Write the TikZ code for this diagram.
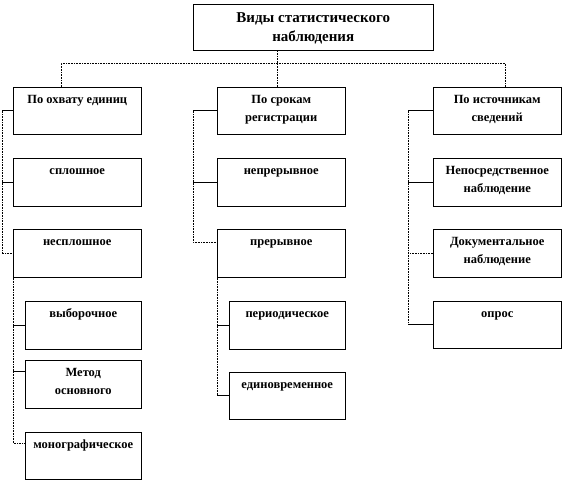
\documentclass[tikz,border=0pt]{standalone}
\usepackage{fontspec}
\setmainfont{Liberation Serif}
\newcommand{\cell}[3]{\parbox[c][#2][t]{#1}{\centering\rule{0pt}{16pt}#3}}
\newcommand{\headcell}[3]{\parbox[c][#2][t]{#1}{\centering\rule{0pt}{18pt}#3}}
\begin{document}
\begin{tikzpicture}[x=1pt,y=-1pt,
  box/.style={draw,line width=0.5pt,inner sep=0pt,anchor=north west,
    font=\bfseries\fontsize{12.5}{18}\selectfont},
  head/.style={box,font=\bfseries\fontsize{15}{19}\selectfont},
  bus/.style={densely dotted,line width=0.6pt},
  stub/.style={line width=0.6pt}]
\useasboundingbox (0,0) rectangle (564,482);
% top
\node[head] (vid) at (193,4) {\headcell{240pt}{46pt}{Виды статистического\\наблюдения}};
% left column
\node[box] (ohv) at (13,87) {\cell{128pt}{47pt}{По охвату единиц}};
\node[box] (splosh) at (13,158) {\cell{128pt}{48pt}{сплошное}};
\node[box] (nesplosh) at (13,229) {\cell{128pt}{48pt}{несплошное}};
\node[box] (vyb) at (25,301) {\cell{116pt}{48pt}{выборочное}};
\node[box] (metod) at (25,360) {\cell{116pt}{48pt}{Метод\\основного}};
\node[box] (mono) at (25,432) {\cell{116pt}{47pt}{монографическое}};
% middle column
\node[box] (srok) at (217,87) {\cell{128pt}{47pt}{По срокам\\регистрации}};
\node[box] (nepr) at (217,158) {\cell{128pt}{48pt}{непрерывное}};
\node[box] (prer) at (217,229) {\cell{128pt}{48pt}{прерывное}};
\node[box] (period) at (229,301) {\cell{116pt}{48pt}{периодическое}};
\node[box] (edin) at (229,372) {\cell{116pt}{47pt}{единовременное}};
% right column
\node[box] (ist) at (433,87) {\cell{128pt}{47pt}{По источникам\\сведений}};
\node[box] (neposr) at (433,158) {\cell{128pt}{48pt}{Непосредственное\\наблюдение}};
\node[box] (dok) at (433,229) {\cell{128pt}{48pt}{Документальное\\наблюдение}};
\node[box] (opros) at (433,301) {\cell{128pt}{47pt}{опрос}};
% bus from the top box
\draw[bus] ([xshift=-16pt]ohv.north) -- ++(0,-24) -| ([xshift=8pt]ist.north);
\draw[bus] ([xshift=-4pt]srok.north) -- ([xshift=-4pt]srok.north |- vid.south);
% left connectors
\draw[bus] ([xshift=-11pt]ohv.west) |- (nesplosh.west);
\draw[stub] (ohv.west) -- ++(-11,0);
\draw[stub] (splosh.west) -- ++(-11,0);
\coordinate (monoIn) at ([yshift=-11pt]mono.north west);
\draw[bus] (nesplosh.south west) |- (monoIn);
\draw[stub] (vyb.west) -- ++(-12,0);
\draw[stub] ([yshift=-11pt]metod.north west) -- ++(-12,0);
% middle connectors
\coordinate (prerIn) at ([yshift=-13pt]prer.north west);
\draw[bus] ([xshift=-24pt]srok.west) |- (prerIn);
\draw[stub] (srok.west) -- ++(-24,0);
\draw[stub] (nepr.west) -- ++(-24,0);
\draw[bus] (prer.south west) -- (prer.south west |- edin.west);
\draw[stub] (period.west) -- ++(-12,0);
\draw[stub] (edin.west) -- ++(-12,0);
% right connectors
\draw[bus] ([xshift=-25pt]ist.west) -- ([xshift=-25pt]opros.west);
\draw[stub] (ist.west) -- ++(-25,0);
\draw[stub] (neposr.west) -- ++(-25,0);
\draw[bus] (dok.west) -- ++(-25,0);
\draw[stub] (opros.west) -- ++(-25,0);
\end{tikzpicture}
\end{document}
